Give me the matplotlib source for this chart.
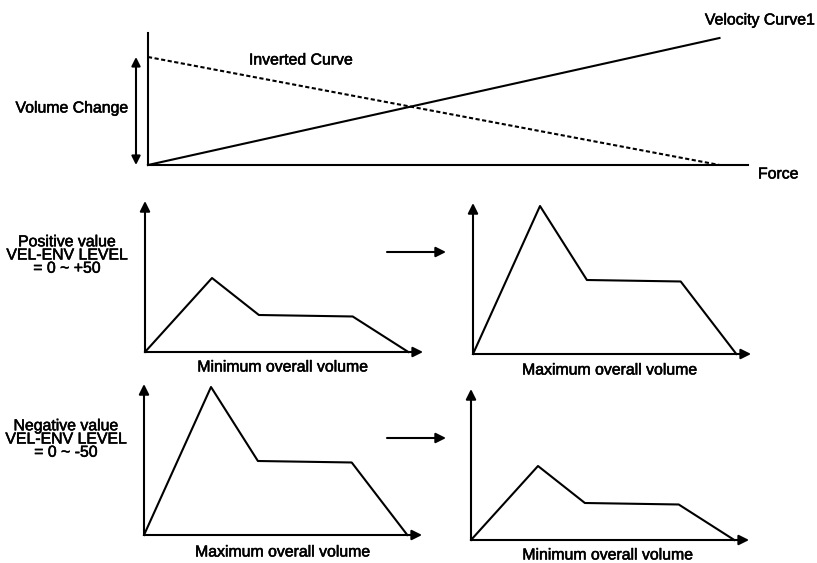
import numpy as np
import matplotlib.pyplot as plt
import matplotlib.patheffects as pe

plt.rcParams['font.family'] = ['Liberation Sans', 'DejaVu Sans']

# top graph: force vs volume change
force = [0, 127]
velocity_curve = [0, 127]
inverted_curve = [108, 0]

# envelope shapes (time in steps, level in %)
env_time = [0, 1.0, 1.7, 3.1, 3.93]
env_max = [0, 100, 50, 49, 0]
env_min = [0, 50, 25, 24, 0]

side_labels = ['Positive value\nVEL-ENV LEVEL\n= 0 ~ +50',
               'Negative value\nVEL-ENV LEVEL\n= 0 ~ -50']

W, H = 817, 563
fig = plt.figure(figsize=(W / 100, H / 100), dpi=100)
LW = 1.5
FS = 11.4
bolden = [pe.withStroke(linewidth=0.4, foreground='black')]


def px_axes(x0, y0, w, h):
    # x0,y0 = origin in image pixels (top-left based), w,h in pixels
    return fig.add_axes([x0 / W, (H - y0) / H, w / W, h / H])


def arrow_axes(ax):
    for s in ax.spines.values():
        s.set_visible(False)
    ax.set_xticks([])
    ax.set_yticks([])
    ax.patch.set_alpha(0)
    kw = dict(arrowstyle='-|>', mutation_scale=15, lw=LW, color='black',
              shrinkA=0, shrinkB=0)
    ax.annotate('', xy=(1, 0), xytext=(0, 0), xycoords='axes fraction',
                arrowprops=kw, annotation_clip=False)
    ax.annotate('', xy=(0, 1), xytext=(0, 0), xycoords='axes fraction',
                arrowprops=kw, annotation_clip=False)


def ftext(x, y, s, ha='center', **kw):
    fig.text(x / W, 1 - y / H, s, ha=ha, va='center', fontsize=FS,
             path_effects=bolden, **kw)


# ---- top graph
ax = px_axes(148, 165, 600, 132)
ax.set_xlim(0, 600 / 4.5)
ax.set_ylim(0, 132)
for s in ax.spines.values():
    s.set_visible(False)
ax.set_xticks([])
ax.set_yticks([])
ax.axhline(0, color='black', lw=LW, clip_on=False)
ax.axvline(0, color='black', lw=LW, clip_on=False)
ax.plot(force, velocity_curve, color='black', lw=LW, clip_on=False)
ax.plot(force, inverted_curve, color='black', lw=LW, ls=(0, (2, 1.2)),
        clip_on=False)
ax.annotate('', xy=(-0.02, 0), xytext=(-0.02, inverted_curve[0]),
            xycoords=('axes fraction', 'data'),
            arrowprops=dict(arrowstyle='<|-|>', mutation_scale=13, lw=LW,
                            color='black', shrinkA=0, shrinkB=0),
            annotation_clip=False)

ftext(72, 108, 'Volume Change')
ftext(301, 60, 'Inverted Curve')
ftext(760, 20, 'Velocity Curve1')
ftext(758, 174, 'Force', ha='left')

# ---- envelope panels
ux, uy = 67, 1.48
panels = [
    ((145, 352), env_min, 'Minimum overall volume', (283, 367)),
    ((473, 354), env_max, 'Maximum overall volume', (610, 370)),
    ((144, 535), env_max, 'Maximum overall volume', (283, 552)),
    ((471, 540), env_min, 'Minimum overall volume', (608, 555)),
]
for (ox, oy), lev, lab, (lx, ly) in panels:
    ax = px_axes(ox, oy, 4.15 * ux, 102 * uy)
    ax.set_xlim(0, 4.15)
    ax.set_ylim(0, 102)
    arrow_axes(ax)
    ax.plot(env_time, lev, color='black', lw=LW, clip_on=False)
    ftext(lx, ly, lab)

# side labels
ftext(67, 255, side_labels[0], multialignment='center', linespacing=0.85)
ftext(66, 439, side_labels[1], multialignment='center', linespacing=0.85)

# middle arrows
for y in (252, 438):
    fig.add_artist(plt.Annotation(
        '', xy=(446 / W, 1 - y / H), xytext=(387 / W, 1 - y / H),
        xycoords='figure fraction',
        arrowprops=dict(arrowstyle='-|>', mutation_scale=15, lw=LW,
                        color='black', shrinkA=0, shrinkB=0)))

fig.savefig('out.png', dpi=100, facecolor='white')
